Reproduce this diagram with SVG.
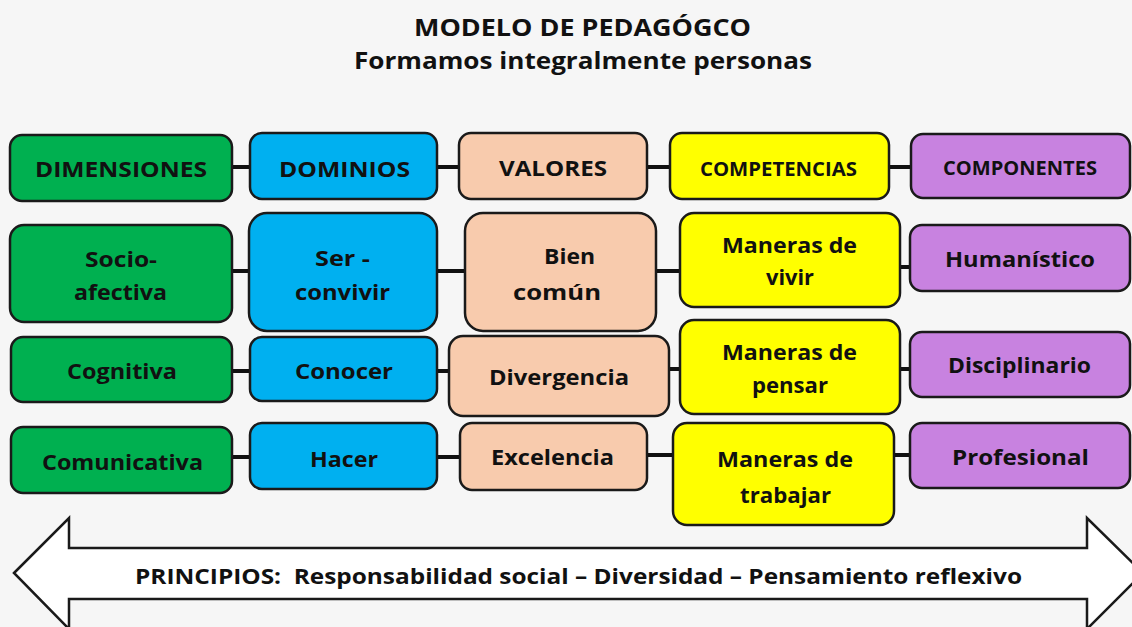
<svg xmlns="http://www.w3.org/2000/svg" width="1132" height="627" viewBox="0 0 1132 627">
<style>
.bx{stroke:#1a1a1a;stroke-width:2.5}
.g{fill:#00b050}.b{fill:#00b0f0}.p{fill:#f8cbad}.y{fill:#ffff00}.v{fill:#c882e0}
text{font-family:"Open Sans","Liberation Sans",sans-serif;font-weight:bold;fill:#111;white-space:pre}
.t{font-size:22px}
.s{font-size:19px}
.h{font-size:23px}
.c line{stroke:#111;stroke-width:4}
</style>
<rect width="1132" height="627" fill="#f6f6f6"/>
<g id="title">
<text class="h" x="414" y="36" textLength="337" lengthAdjust="spacingAndGlyphs">MODELO DE PEDAGÓGCO</text>
<text class="h" x="354" y="69" textLength="458" lengthAdjust="spacingAndGlyphs">Formamos integralmente personas</text>
</g>
<g id="connectors" class="c">
<line x1="230" y1="167" x2="252" y2="167"/><line x1="435" y1="167" x2="461" y2="167"/><line x1="646" y1="167" x2="672" y2="167"/><line x1="887" y1="167" x2="913" y2="167"/>
<line x1="230" y1="271" x2="251" y2="271"/><line x1="435" y1="271" x2="466" y2="271"/><line x1="654" y1="271" x2="682" y2="271"/><line x1="898" y1="267" x2="912" y2="267"/>
<line x1="230" y1="371" x2="252" y2="371"/><line x1="435" y1="371" x2="451" y2="371"/><line x1="667" y1="369" x2="682" y2="369"/><line x1="898" y1="369" x2="912" y2="369"/>
<line x1="230" y1="457" x2="252" y2="457"/><line x1="435" y1="457" x2="462" y2="457"/><line x1="645" y1="455" x2="675" y2="455"/><line x1="892" y1="455" x2="912" y2="455"/>
</g>
<g id="dimensiones"><rect class="bx g" x="10" y="135" width="222" height="66" rx="12"/><text class="t" x="35" y="177" textLength="172" lengthAdjust="spacingAndGlyphs">DIMENSIONES</text></g>
<g id="dominios"><rect class="bx b" x="250" y="133" width="187" height="66" rx="12"/><text class="t" x="279" y="177" textLength="131" lengthAdjust="spacingAndGlyphs">DOMINIOS</text></g>
<g id="valores"><rect class="bx p" x="459" y="133" width="188" height="66" rx="12"/><text class="t" x="499" y="176" textLength="108" lengthAdjust="spacingAndGlyphs">VALORES</text></g>
<g id="competencias"><rect class="bx y" x="670" y="133" width="219" height="66" rx="12"/><text class="s" x="700" y="176" textLength="157" lengthAdjust="spacingAndGlyphs">COMPETENCIAS</text></g>
<g id="componentes"><rect class="bx v" x="911" y="134" width="219" height="64" rx="12"/><text class="s" x="943" y="175" textLength="154" lengthAdjust="spacingAndGlyphs">COMPONENTES</text></g>

<g id="socio-afectiva"><rect class="bx g" x="10" y="225" width="222" height="97" rx="14"/><text class="t" x="85" y="267" textLength="72" lengthAdjust="spacingAndGlyphs">Socio-</text><text class="t" x="74" y="300" textLength="93" lengthAdjust="spacingAndGlyphs">afectiva</text></g>
<g id="ser-convivir"><rect class="bx b" x="249" y="213" width="188" height="118" rx="18"/><text class="t" x="315" y="266" textLength="55" lengthAdjust="spacingAndGlyphs">Ser -</text><text class="t" x="295" y="300" textLength="95" lengthAdjust="spacingAndGlyphs">convivir</text></g>
<g id="bien-comun"><rect class="bx p" x="465" y="213" width="191" height="118" rx="18"/><text class="t" x="544" y="264" textLength="51" lengthAdjust="spacingAndGlyphs">Bien</text><text class="t" x="513" y="300" textLength="88" lengthAdjust="spacingAndGlyphs">común</text></g>
<g id="maneras-vivir"><rect class="bx y" x="680" y="213" width="220" height="94" rx="14"/><text class="t" x="722" y="253" textLength="135" lengthAdjust="spacingAndGlyphs">Maneras de</text><text class="t" x="766" y="285" textLength="48" lengthAdjust="spacingAndGlyphs">vivir</text></g>
<g id="humanistico"><rect class="bx v" x="910" y="225" width="220" height="66" rx="12"/><text class="t" x="945" y="267" textLength="150" lengthAdjust="spacingAndGlyphs">Humanístico</text></g>

<g id="cognitiva"><rect class="bx g" x="11" y="337" width="221" height="65" rx="12"/><text class="t" x="67" y="379" textLength="110" lengthAdjust="spacingAndGlyphs">Cognitiva</text></g>
<g id="conocer"><rect class="bx b" x="250" y="337" width="187" height="64" rx="12"/><text class="t" x="295" y="379" textLength="98" lengthAdjust="spacingAndGlyphs">Conocer</text></g>
<g id="divergencia"><rect class="bx p" x="449" y="336" width="220" height="80" rx="14"/><text class="t" x="489" y="385" textLength="140" lengthAdjust="spacingAndGlyphs">Divergencia</text></g>
<g id="maneras-pensar"><rect class="bx y" x="680" y="320" width="220" height="94" rx="14"/><text class="t" x="722" y="360" textLength="135" lengthAdjust="spacingAndGlyphs">Maneras de</text><text class="t" x="752" y="393" textLength="76" lengthAdjust="spacingAndGlyphs">pensar</text></g>
<g id="disciplinario"><rect class="bx v" x="910" y="332" width="220" height="65" rx="12"/><text class="t" x="948" y="373" textLength="143" lengthAdjust="spacingAndGlyphs">Disciplinario</text></g>

<g id="comunicativa"><rect class="bx g" x="11" y="427" width="221" height="66" rx="12"/><text class="t" x="42" y="470" textLength="161" lengthAdjust="spacingAndGlyphs">Comunicativa</text></g>
<g id="hacer"><rect class="bx b" x="250" y="423" width="187" height="66" rx="12"/><text class="t" x="310" y="467" textLength="68" lengthAdjust="spacingAndGlyphs">Hacer</text></g>
<g id="excelencia"><rect class="bx p" x="460" y="423" width="187" height="67" rx="12"/><text class="t" x="491" y="465" textLength="123" lengthAdjust="spacingAndGlyphs">Excelencia</text></g>
<g id="maneras-trabajar"><rect class="bx y" x="673" y="423" width="221" height="102" rx="14"/><text class="t" x="717" y="467" textLength="136" lengthAdjust="spacingAndGlyphs">Maneras de</text><text class="t" x="740" y="503" textLength="91" lengthAdjust="spacingAndGlyphs">trabajar</text></g>
<g id="profesional"><rect class="bx v" x="910" y="423" width="220" height="65" rx="12"/><text class="t" x="952" y="465" textLength="137" lengthAdjust="spacingAndGlyphs">Profesional</text></g>

<g id="principios">
<polygon points="14,573 69,518 69,548 1087,548 1087,518 1143,573 1087,629 1087,599 69,599 69,629" fill="#ffffff" stroke="#1a1a1a" stroke-width="2.5" stroke-linejoin="miter"/>
<text class="t" x="135" y="584" textLength="887" lengthAdjust="spacingAndGlyphs">PRINCIPIOS:  Responsabilidad social – Diversidad – Pensamiento reflexivo</text>
</g>
</svg>
